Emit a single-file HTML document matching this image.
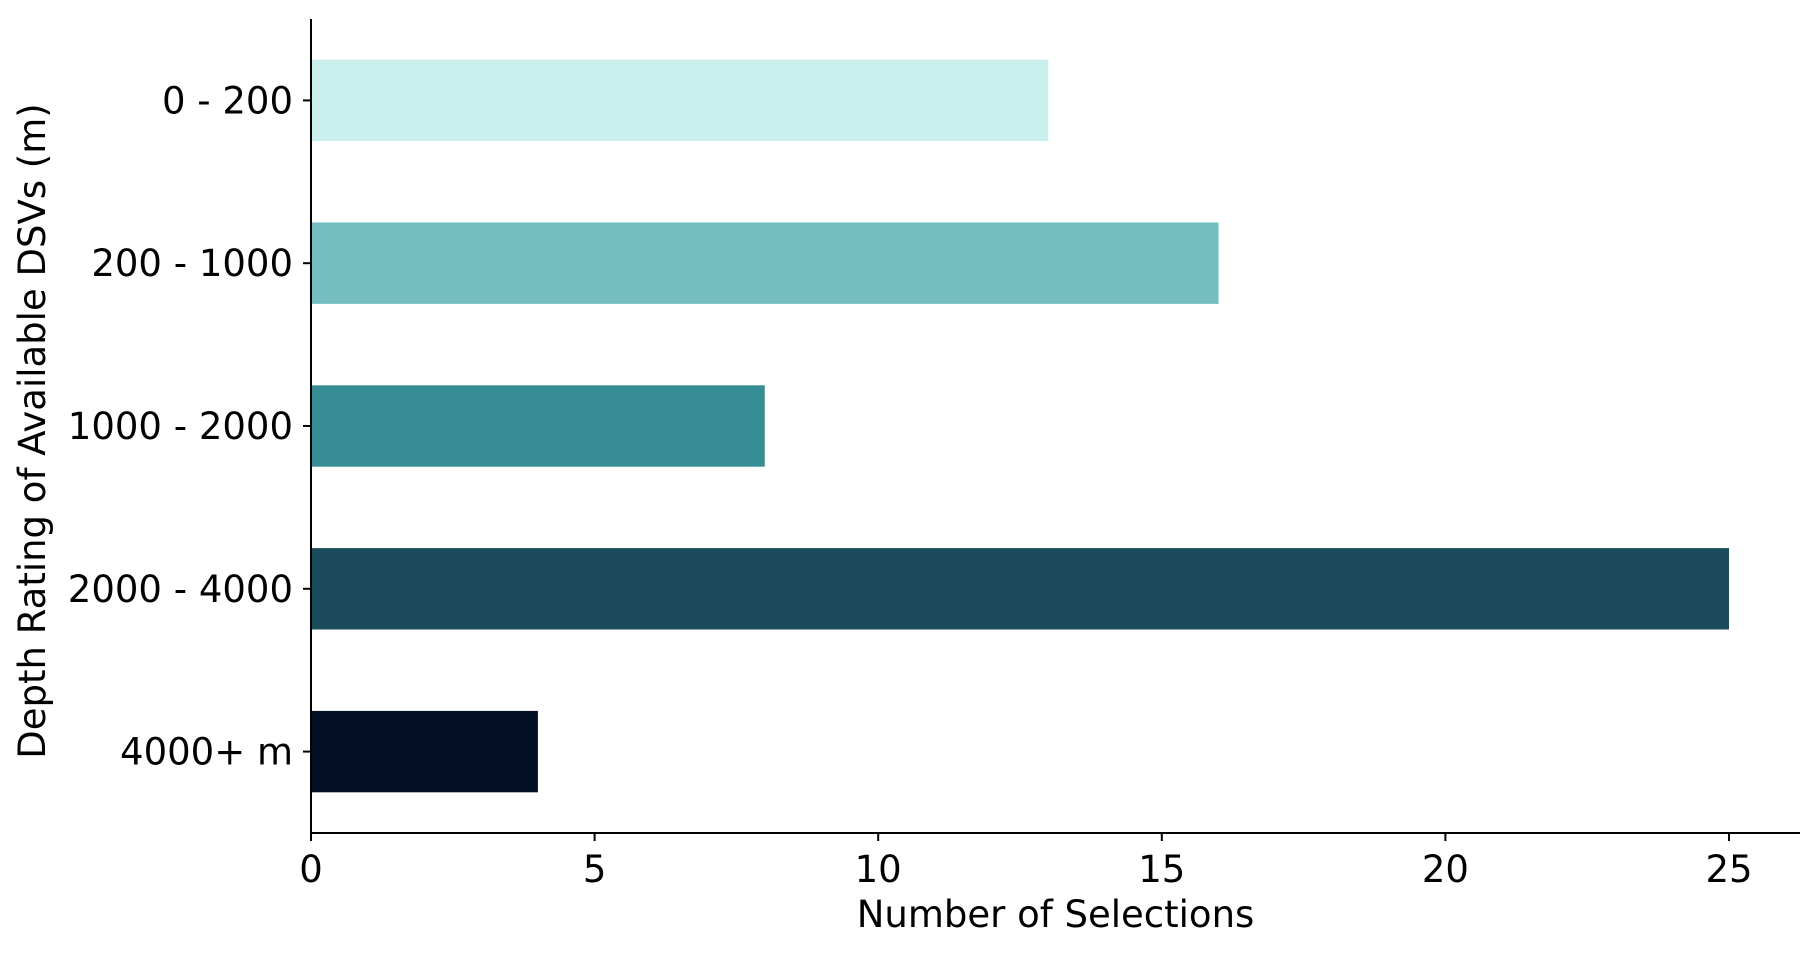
<!DOCTYPE html>
<html><head><meta charset="utf-8"><style>
html,body{margin:0;padding:0;background:#fff;}
svg{display:block;font-family:"DejaVu Sans","Liberation Sans",sans-serif;}
</style></head><body>
<svg id="chart" width="1819" height="955" viewBox="0 0 1819 955" xmlns="http://www.w3.org/2000/svg">
<g id="bars"></g>
<g id="axes"></g>
</svg>
<script>
const categories = ["0 - 200", "200 - 1000", "1000 - 2000", "2000 - 4000", "4000+ m"];
const values = [13, 16, 8, 25, 4];
const colors = ["#caf0ee", "#74bec1", "#378d94", "#1b4a5a", "#020f25"];
const xTicks = [0, 5, 10, 15, 20, 25];

const NS = "http://www.w3.org/2000/svg";
const L = 311, R = 1800, T = 19, B = 833;
function xs(v){ return L + v * (1729 - L) / 25; }
function ys(i){ return T + (i + 0.5) * (B - T) / 5; }
const bw = 0.5 * (B - T) / 5;

function mk(tag, attrs, parent){
  const e = document.createElementNS(NS, tag);
  for (const k in attrs) e.setAttribute(k, attrs[k]);
  parent.appendChild(e); return e;
}
const bars = document.getElementById('bars');
const axes = document.getElementById('axes');

categories.forEach((c, i) => {
  const r = mk('rect', {x: xs(0), y: ys(i) - bw/2, width: xs(values[i]) - xs(0), height: bw, fill: colors[i]}, bars);
  
  
  const t = mk('line', {x1: L - 8, x2: L, y1: ys(i), y2: ys(i), stroke: '#000', 'stroke-width': 2}, axes);
  
  
  const lb = mk('text', {x: L - 18, y: ys(i) + 13, 'text-anchor': 'end', 'font-size': 37, fill: '#000'}, axes);
  lb.textContent = c;
  
  
});

xTicks.forEach(v => {
  const t = mk('line', {x1: xs(v), x2: xs(v), y1: B, y2: B + 8, stroke: '#000', 'stroke-width': 2}, axes);
  
  
  const lb = mk('text', {x: xs(v), y: B + 49, 'text-anchor': 'middle', 'font-size': 37, fill: '#000'}, axes);
  lb.textContent = String(v);
  
  
});

const ya = mk('line', {x1: L, x2: L, y1: T, y2: B + 1, stroke: '#000', 'stroke-width': 2}, axes);


const xa = mk('line', {x1: L - 1, x2: R, y1: B, y2: B, stroke: '#000', 'stroke-width': 2}, axes);



const xt = mk('text', {x: (L + R) / 2, y: 927, 'text-anchor': 'middle', 'font-size': 37, fill: '#000'}, axes);
xt.textContent = 'Number of Selections';


const yt = mk('text', {x: 0, y: 0, 'text-anchor': 'middle', 'font-size': 37, fill: '#000', transform: 'translate(45,' + ((T + B) / 2 + 5) + ') rotate(-90)'}, axes);
yt.textContent = 'Depth Rating of Available DSVs (m)';


</script>
</body></html>
